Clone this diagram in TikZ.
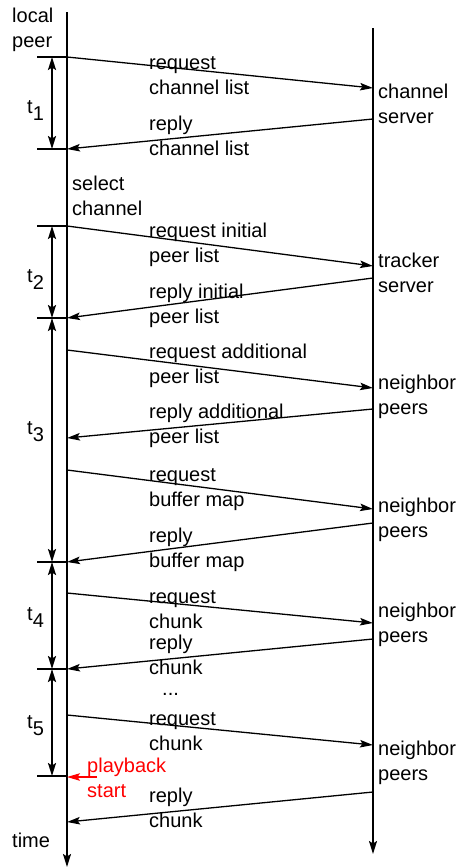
\documentclass[tikz,border=0pt]{standalone}
\usepackage{fontspec}
\setmainfont{Liberation Sans}
\usetikzlibrary{arrows.meta}
\newcommand{\tsub}[1]{t\raisebox{-7pt}{#1}}
\begin{document}
\begin{tikzpicture}[x=1pt,y=-1pt,
  % two-line labels are placed by the baseline of their last line
  lbl/.style={anchor=base west, inner sep=0pt, align=left, font=\fontsize{20}{25}\selectfont},
  msg/.style={line width=1.3pt, -{Stealth[length=13pt,width=7.5pt,inset=2.5pt]}},
  life/.style={line width=1.6pt, -{Stealth[length=13pt,width=8pt,inset=2.5pt]}},
  span/.style={line width=2pt, {Stealth[length=13pt,width=8pt,inset=2.5pt]}-{Stealth[length=13pt,width=8pt,inset=2.5pt]}},
  tickmark/.style={line width=1.3pt}]
\useasboundingbox (0,0) rectangle (459,868);

% lifelines
\coordinate (Ltop) at (67,12);
\coordinate (Lbot) at (67,867);
\coordinate (Rtop) at (373,28);
\coordinate (Rbot) at (373,854);
\draw[life] (Ltop) -- (Lbot);
\draw[life] (Rtop) -- (Rbot);

% interval boundaries on the local peer side
\foreach \n/\y in {1/57,2/149,3/226,4/318,5/562,6/669,7/776}{
  \coordinate (k\n) at (52,\y);
  \draw[tickmark] (37,\y) -- (67,\y);
}
\draw[span] (k1) -- (k2);
\draw[span] (k3) -- (k4);
\draw[span] (k4) -- (k5);
\draw[span] (k5) -- (k6);
\draw[span] (k6) -- (k7);

% message end points
\coordinate (a1) at (67,57);   \coordinate (b1) at (373,88);
\coordinate (b2) at (373,119); \coordinate (a2) at (67,149);
\coordinate (a3) at (67,226);  \coordinate (b3) at (373,266);
\coordinate (b4) at (373,278); \coordinate (a4) at (67,318);
\coordinate (a5) at (67,350);  \coordinate (b5) at (373,388);
\coordinate (b6) at (373,409); \coordinate (a6) at (67,438);
\coordinate (a7) at (67,470);  \coordinate (b7) at (373,509);
\coordinate (b8) at (373,523); \coordinate (a8) at (67,562);
\coordinate (a9) at (67,593);  \coordinate (b9) at (373,623);
\coordinate (b10) at (373,639); \coordinate (a10) at (67,669);
\coordinate (a11) at (67,715); \coordinate (b11) at (373,745);
\coordinate (b12) at (373,792); \coordinate (a12) at (67,822);

\draw[msg] (a1) -- (b1);
\draw[msg] (b2) -- (a2);
\draw[msg] (a3) -- (b3);
\draw[msg] (b4) -- (a4);
\draw[msg] (a5) -- (b5);
\draw[msg] (b6) -- (a6);
\draw[msg] (a7) -- (b7);
\draw[msg] (b8) -- (a8);
\draw[msg] (a9) -- (b9);
\draw[msg] (b10) -- (a10);
\draw[msg] (a11) -- (b11);
\draw[msg] (b12) -- (a12);

% playback start marker
\coordinate (p0) at (97,777);
\coordinate (p1) at (67,777);
\draw[msg, red] (p0) -- (p1);

% message labels
\node[lbl] (m1)  at (149,94)  {request\\channel list};
\node[lbl] (m2)  at (149,155) {reply\\channel list};
\node[lbl] (m3)  at (149,262) {request initial\\peer list};
\node[lbl] (m4)  at (149,323) {reply initial\\peer list};
\node[lbl] (m5)  at (149,383) {request additional\\peer list};
\node[lbl] (m6)  at (149,443) {reply additional\\peer list};
\node[lbl] (m7)  at (149,506) {request\\buffer map};
\node[lbl] (m8)  at (149,567) {reply\\buffer map};
\node[lbl] (m9)  at (149,628) {request\\chunk};
\node[lbl] (m10) at (149,674) {reply\\chunk};
\node[lbl] (dots) at (162,695) {...};
\node[lbl] (m11) at (149,750) {request\\chunk};
\node[lbl] (m12) at (149,827) {reply\\chunk};

% remote side labels
\node[lbl] (r1) at (378,123) {channel\\server};
\node[lbl] (r2) at (378,292) {tracker\\server};
\node[lbl] (r3) at (378,414) {neighbor\\peers};
\node[lbl] (r4) at (378,537) {neighbor\\peers};
\node[lbl] (r5) at (378,642) {neighbor\\peers};
\node[lbl] (r6) at (378,780) {neighbor\\peers};

% local side labels
\node[lbl] (lp) at (12,47) {local\\peer};
\node[lbl] (sc) at (72,215) {select\\channel};
\node[lbl] (tm) at (12,847) {time};
\node[lbl, text=red] (pb) at (87,797) {playback\\start};
\node[lbl] (t1) at (27,113) {\tsub{1}};
\node[lbl] (t2) at (27,282) {\tsub{2}};
\node[lbl] (t3) at (27,434) {\tsub{3}};
\node[lbl] (t4) at (27,620) {\tsub{4}};
\node[lbl] (t5) at (27,728) {\tsub{5}};
\end{tikzpicture}
\end{document}
